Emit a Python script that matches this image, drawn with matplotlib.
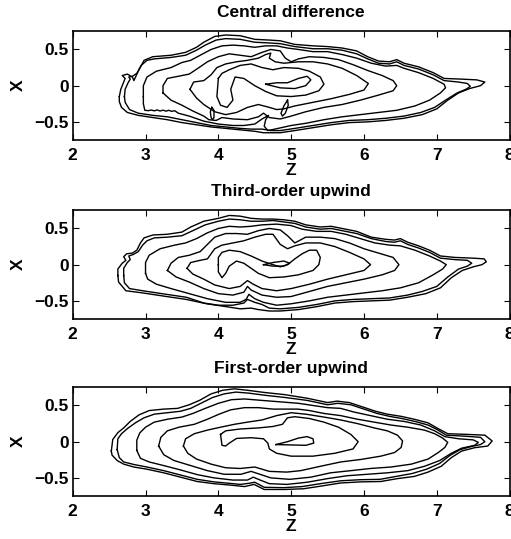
import matplotlib
matplotlib.use("Agg")
import matplotlib.pyplot as plt

plt.rcParams['font.family'] = ['Liberation Sans', 'DejaVu Sans']
plt.rcParams['font.weight'] = 'bold'

# contour lines, as (Z, X) vertices, outermost first

# --- Central difference ---
central_c1 = [(2.64, -0.15), (2.66, -0.05), (2.70, 0.05), (2.72, 0.10), (2.68, 0.14), (2.75, 0.16),
              (2.82, 0.12), (2.84, 0.07), (2.90, 0.20), (2.98, 0.35), (3.10, 0.40), (3.35, 0.42),
              (3.55, 0.46), (3.70, 0.53), (3.80, 0.60), (3.95, 0.68), (4.10, 0.70), (4.30, 0.69),
              (4.50, 0.64), (4.70, 0.63), (4.85, 0.62), (5.05, 0.57), (5.30, 0.55), (5.50, 0.54),
              (5.70, 0.52), (5.90, 0.48), (6.05, 0.40), (6.20, 0.34), (6.35, 0.33), (6.45, 0.36),
              (6.55, 0.31), (6.75, 0.26), (6.95, 0.18), (7.10, 0.10), (7.35, 0.09), (7.55, 0.08),
              (7.66, 0.05), (7.60, 0.00), (7.45, -0.04), (7.30, -0.10), (7.15, -0.20), (7.00, -0.32),
              (6.80, -0.40), (6.55, -0.45), (6.30, -0.48), (6.05, -0.50), (5.80, -0.51), (5.55, -0.54),
              (5.30, -0.58), (5.05, -0.62), (4.85, -0.65), (4.62, -0.65), (4.50, -0.63), (4.30, -0.61),
              (4.10, -0.59), (3.90, -0.57), (3.70, -0.54), (3.50, -0.51), (3.30, -0.47), (3.10, -0.44),
              (2.90, -0.41), (2.75, -0.37), (2.67, -0.30), (2.64, -0.22)]
central_c2 = [(2.71, -0.15), (2.72, -0.05), (2.76, 0.04), (2.79, 0.09), (2.77, 0.12), (2.82, 0.13),
              (2.88, 0.17), (2.94, 0.28), (3.02, 0.35), (3.12, 0.37), (3.35, 0.39), (3.55, 0.42),
              (3.70, 0.49), (3.82, 0.56), (3.97, 0.63), (4.10, 0.65), (4.30, 0.64), (4.50, 0.60),
              (4.70, 0.59), (4.85, 0.58), (5.05, 0.54), (5.30, 0.51), (5.50, 0.51), (5.70, 0.49),
              (5.90, 0.44), (6.05, 0.37), (6.20, 0.31), (6.35, 0.30), (6.45, 0.33), (6.55, 0.28),
              (6.75, 0.23), (6.95, 0.15), (7.10, 0.07), (7.30, 0.05), (7.42, 0.03), (7.46, -0.01),
              (7.40, -0.05), (7.28, -0.10), (7.12, -0.20), (6.97, -0.30), (6.78, -0.37), (6.55, -0.42),
              (6.30, -0.45), (6.05, -0.47), (5.80, -0.48), (5.55, -0.51), (5.30, -0.55), (5.05, -0.59),
              (4.85, -0.62), (4.72, -0.62), (4.60, -0.60), (4.45, -0.60), (4.30, -0.59), (4.10, -0.57),
              (3.90, -0.55), (3.70, -0.51), (3.50, -0.47), (3.30, -0.43), (3.10, -0.41), (2.90, -0.38),
              (2.78, -0.33), (2.72, -0.23)]
central_c3 = [(2.97, -0.15), (2.97, 0.00), (3.02, 0.12), (3.15, 0.20), (3.35, 0.25), (3.50, 0.32),
              (3.62, 0.35), (3.75, 0.42), (3.90, 0.50), (4.05, 0.55), (4.20, 0.56), (4.35, 0.55),
              (4.50, 0.53), (4.65, 0.55), (4.80, 0.55), (4.95, 0.52), (5.10, 0.50), (5.30, 0.47),
              (5.50, 0.47), (5.70, 0.43), (5.90, 0.38), (6.10, 0.31), (6.30, 0.27), (6.45, 0.28),
              (6.55, 0.24), (6.75, 0.18), (6.95, 0.10), (7.10, 0.02), (7.12, -0.03), (7.05, -0.10),
              (6.90, -0.20), (6.70, -0.28), (6.45, -0.34), (6.20, -0.37), (5.95, -0.40), (5.70, -0.43),
              (5.45, -0.47), (5.20, -0.52), (5.00, -0.55), (4.82, -0.59), (4.68, -0.62), (4.63, -0.56),
              (4.65, -0.47), (4.69, -0.41), (4.60, -0.46), (4.50, -0.53), (4.35, -0.55), (4.20, -0.55),
              (4.00, -0.53), (3.80, -0.49), (3.60, -0.42), (3.45, -0.38), (3.40, -0.345), (3.36, -0.355),
              (3.32, -0.34), (3.28, -0.352), (3.24, -0.338), (3.20, -0.35), (3.16, -0.335), (3.12, -0.348),
              (3.08, -0.336), (3.04, -0.345), (2.99, -0.34), (2.97, -0.25)]
central_c4 = [(3.24, -0.10), (3.24, 0.00), (3.30, 0.10), (3.45, 0.13), (3.60, 0.16), (3.72, 0.24),
              (3.85, 0.33), (4.00, 0.40), (4.15, 0.44), (4.30, 0.42), (4.45, 0.40), (4.60, 0.46),
              (4.72, 0.50), (4.85, 0.48), (4.92, 0.38), (5.00, 0.33), (5.10, 0.37), (5.25, 0.40),
              (5.45, 0.39), (5.65, 0.36), (5.85, 0.29), (6.05, 0.21), (6.25, 0.14), (6.40, 0.07),
              (6.45, 0.00), (6.40, -0.07), (6.20, -0.13), (5.95, -0.20), (5.70, -0.26), (5.45, -0.30),
              (5.20, -0.36), (5.00, -0.42), (4.85, -0.46), (4.70, -0.44), (4.62, -0.38), (4.55, -0.43),
              (4.40, -0.47), (4.20, -0.46), (4.05, -0.44), (3.97, -0.48), (3.87, -0.47), (3.80, -0.42),
              (3.65, -0.35), (3.50, -0.27), (3.35, -0.20)]
central_c5 = [(3.61, -0.05), (3.66, 0.05), (3.80, 0.07), (3.90, 0.15), (3.98, 0.25), (4.10, 0.30),
              (4.25, 0.33), (4.40, 0.35), (4.55, 0.38), (4.65, 0.43), (4.72, 0.45), (4.70, 0.38),
              (4.78, 0.33), (4.90, 0.31), (5.10, 0.33), (5.30, 0.33), (5.50, 0.30), (5.70, 0.24),
              (5.90, 0.14), (6.06, 0.03), (6.00, -0.06), (5.80, -0.12), (5.55, -0.18), (5.30, -0.23),
              (5.05, -0.28), (4.90, -0.32), (4.80, -0.33), (4.70, -0.30), (4.55, -0.26), (4.40, -0.30),
              (4.25, -0.37), (4.10, -0.40), (3.95, -0.36), (3.80, -0.26), (3.70, -0.17)]
central_c6 = [(4.00, 0.10), (3.98, -0.15), (4.03, -0.27), (4.12, -0.30), (4.20, -0.20), (4.17, -0.05),
              (4.23, 0.12), (4.35, 0.10), (4.50, 0.00), (4.65, -0.08), (4.80, -0.14), (5.00, -0.15),
              (5.20, -0.13), (5.38, -0.07), (5.45, 0.02), (5.40, 0.12), (5.25, 0.20), (5.10, 0.24),
              (4.90, 0.25), (4.75, 0.22), (4.60, 0.25), (4.45, 0.30), (4.30, 0.28), (4.15, 0.22),
              (4.05, 0.17)]
central_c7 = [(4.65, 0.02), (4.85, -0.03), (5.05, -0.04), (5.20, 0.00), (5.27, 0.08), (5.22, 0.13),
              (5.10, 0.10), (4.95, 0.04), (4.80, 0.04)]
central_drop1 = [(3.91, -0.30), (3.94, -0.34), (3.94, -0.44), (3.92, -0.47), (3.90, -0.44), (3.89, -0.36)]
central_drop2 = [(4.95, -0.20), (4.96, -0.27), (4.92, -0.38), (4.88, -0.42), (4.86, -0.38), (4.90, -0.28)]

# --- Third-order upwind ---
third_c1 = [(2.62, -0.15), (2.62, -0.06), (2.68, 0.02), (2.73, 0.06), (2.70, 0.11), (2.74, 0.15),
            (2.82, 0.16), (2.88, 0.20), (2.93, 0.30), (2.98, 0.37), (3.10, 0.41), (3.30, 0.42),
            (3.50, 0.45), (3.62, 0.52), (3.80, 0.60), (4.00, 0.64), (4.15, 0.68), (4.30, 0.67),
            (4.45, 0.64), (4.60, 0.63), (4.75, 0.63), (4.90, 0.62), (5.05, 0.60), (5.20, 0.55),
            (5.40, 0.52), (5.55, 0.53), (5.70, 0.50), (5.90, 0.46), (6.10, 0.38), (6.30, 0.35),
            (6.42, 0.34), (6.50, 0.36), (6.60, 0.31), (6.75, 0.26), (6.90, 0.20), (7.05, 0.12),
            (7.25, 0.10), (7.50, 0.09), (7.65, 0.08), (7.68, 0.04), (7.62, 0.00), (7.50, -0.03),
            (7.35, -0.08), (7.20, -0.18), (7.05, -0.32), (6.85, -0.40), (6.60, -0.45), (6.35, -0.49),
            (6.10, -0.50), (5.85, -0.51), (5.60, -0.53), (5.35, -0.58), (5.10, -0.62), (4.85, -0.64),
            (4.70, -0.64), (4.55, -0.62), (4.45, -0.60), (4.30, -0.61), (4.11, -0.58), (3.84, -0.54),
            (3.56, -0.48), (3.29, -0.44), (2.96, -0.39), (2.73, -0.36), (2.63, -0.24)]
third_c2 = [(2.70, -0.15), (2.70, -0.05), (2.75, 0.03), (2.79, 0.07), (2.77, 0.12), (2.83, 0.14),
            (2.90, 0.18), (2.96, 0.27), (3.02, 0.33), (3.12, 0.37), (3.30, 0.38), (3.50, 0.40),
            (3.65, 0.47), (3.82, 0.55), (4.00, 0.60), (4.15, 0.63), (4.30, 0.62), (4.45, 0.60),
            (4.60, 0.60), (4.75, 0.61), (4.90, 0.59), (5.05, 0.57), (5.20, 0.52), (5.40, 0.49),
            (5.55, 0.50), (5.70, 0.47), (5.90, 0.43), (6.10, 0.36), (6.30, 0.32), (6.42, 0.31),
            (6.50, 0.33), (6.60, 0.28), (6.75, 0.23), (6.90, 0.17), (7.05, 0.09), (7.25, 0.07),
            (7.42, 0.06), (7.48, 0.02), (7.42, -0.02), (7.30, -0.06), (7.15, -0.17), (7.00, -0.30),
            (6.80, -0.37), (6.60, -0.42), (6.35, -0.46), (6.10, -0.47), (5.85, -0.48), (5.60, -0.50),
            (5.35, -0.55), (5.10, -0.59), (4.85, -0.61), (4.70, -0.60), (4.60, -0.55), (4.50, -0.52),
            (4.40, -0.48), (4.35, -0.53), (4.20, -0.56), (4.00, -0.56), (3.80, -0.53), (3.56, -0.45),
            (3.29, -0.41), (2.96, -0.36), (2.78, -0.33), (2.71, -0.25)]
third_c3 = [(3.00, -0.12), (3.00, 0.03), (3.05, 0.13), (3.20, 0.22), (3.40, 0.27), (3.55, 0.30),
            (3.70, 0.36), (3.85, 0.44), (4.00, 0.50), (4.15, 0.53), (4.30, 0.52), (4.45, 0.53),
            (4.60, 0.55), (4.80, 0.56), (5.00, 0.54), (5.15, 0.49), (5.35, 0.46), (5.55, 0.46),
            (5.75, 0.42), (5.95, 0.36), (6.15, 0.30), (6.35, 0.27), (6.50, 0.26), (6.70, 0.20),
            (6.90, 0.12), (7.05, 0.05), (7.13, 0.00), (7.08, -0.06), (6.95, -0.14), (6.75, -0.25),
            (6.50, -0.32), (6.25, -0.36), (6.00, -0.39), (5.75, -0.42), (5.50, -0.45), (5.25, -0.50),
            (5.00, -0.54), (4.80, -0.56), (4.62, -0.52), (4.50, -0.47), (4.42, -0.41), (4.38, -0.48),
            (4.30, -0.52), (4.10, -0.52), (3.85, -0.47), (3.60, -0.40), (3.35, -0.33), (3.15, -0.27),
            (3.03, -0.20)]
third_c4 = [(3.30, -0.08), (3.35, 0.02), (3.45, 0.10), (3.60, 0.13), (3.75, 0.18), (3.85, 0.28),
            (3.95, 0.38), (4.10, 0.43), (4.25, 0.43), (4.40, 0.42), (4.55, 0.47), (4.70, 0.50),
            (4.85, 0.48), (4.95, 0.40), (5.05, 0.30), (5.20, 0.38), (5.40, 0.38), (5.60, 0.36),
            (5.80, 0.30), (6.00, 0.22), (6.20, 0.16), (6.40, 0.10), (6.48, 0.00), (6.42, -0.08),
            (6.25, -0.14), (6.00, -0.20), (5.75, -0.25), (5.50, -0.30), (5.25, -0.37), (5.00, -0.44),
            (4.80, -0.45), (4.60, -0.42), (4.45, -0.35), (4.40, -0.30), (4.35, -0.38), (4.20, -0.42),
            (4.00, -0.40), (3.80, -0.33), (3.60, -0.24), (3.42, -0.17)]
third_c5 = [(3.57, -0.05), (3.62, 0.03), (3.75, 0.06), (3.85, 0.08), (3.90, 0.15), (3.95, 0.22),
            (4.05, 0.27), (4.20, 0.30), (4.35, 0.33), (4.50, 0.38), (4.65, 0.42), (4.75, 0.42),
            (4.80, 0.35), (4.85, 0.28), (4.95, 0.22), (5.05, 0.26), (5.20, 0.30), (5.40, 0.30),
            (5.60, 0.25), (5.80, 0.17), (6.00, 0.08), (6.09, 0.00), (6.00, -0.08), (5.75, -0.14),
            (5.50, -0.20), (5.25, -0.27), (5.00, -0.33), (4.80, -0.36), (4.60, -0.33), (4.48, -0.27),
            (4.40, -0.22), (4.30, -0.30), (4.15, -0.33), (3.95, -0.28), (3.80, -0.20), (3.65, -0.13)]
third_c6 = [(4.00, 0.00), (4.00, 0.10), (4.05, 0.17), (4.15, 0.20), (4.30, 0.18), (4.45, 0.12),
            (4.60, 0.05), (4.75, 0.00), (4.85, -0.03), (4.95, 0.00), (5.05, 0.08), (5.15, 0.15),
            (5.25, 0.20), (5.35, 0.20), (5.40, 0.10), (5.38, 0.00), (5.30, -0.08), (5.10, -0.14),
            (4.90, -0.17), (4.70, -0.18), (4.55, -0.12), (4.45, -0.05), (4.35, 0.02), (4.25, 0.05),
            (4.15, -0.02), (4.10, -0.12), (4.05, -0.18), (4.00, -0.10)]
third_c7 = [(4.62, 0.00), (4.75, 0.03), (4.90, 0.05), (4.98, 0.02), (4.90, -0.02), (4.75, -0.02)]

# --- First-order upwind ---
first_c1 = [(2.53, -0.13), (2.55, 0.03), (2.62, 0.125), (2.70, 0.19), (2.79, 0.28), (2.91, 0.37),
            (3.05, 0.43), (3.25, 0.45), (3.44, 0.46), (3.60, 0.51), (3.74, 0.57), (3.90, 0.66),
            (4.06, 0.71), (4.22, 0.73), (4.40, 0.71), (4.63, 0.68), (4.91, 0.65), (5.22, 0.60),
            (5.50, 0.54), (5.63, 0.56), (5.80, 0.54), (5.98, 0.48), (6.16, 0.42), (6.32, 0.38),
            (6.51, 0.35), (6.69, 0.31), (6.88, 0.26), (7.01, 0.185), (7.15, 0.11), (7.43, 0.10),
            (7.66, 0.09), (7.76, 0.01), (7.70, -0.06), (7.52, -0.083), (7.34, -0.13), (7.20, -0.22),
            (7.06, -0.34), (6.88, -0.42), (6.69, -0.48), (6.46, -0.51), (6.23, -0.55), (5.96, -0.555),
            (5.68, -0.57), (5.40, -0.615), (5.17, -0.65), (4.91, -0.66), (4.63, -0.66), (4.49, -0.59),
            (4.36, -0.62), (4.17, -0.60), (3.94, -0.58), (3.71, -0.55), (3.48, -0.49), (3.25, -0.43),
            (3.02, -0.38), (2.84, -0.35), (2.70, -0.31), (2.61, -0.26), (2.54, -0.185)]
first_c2 = [(2.61, -0.11), (2.62, 0.04), (2.67, 0.11), (2.75, 0.18), (2.86, 0.26), (2.98, 0.33),
            (3.12, 0.38), (3.30, 0.40), (3.48, 0.42), (3.62, 0.46), (3.76, 0.53), (3.92, 0.61),
            (4.08, 0.66), (4.24, 0.685), (4.42, 0.67), (4.65, 0.64), (4.92, 0.61), (5.22, 0.57),
            (5.50, 0.51), (5.64, 0.53), (5.82, 0.51), (6.00, 0.45), (6.18, 0.39), (6.35, 0.35),
            (6.52, 0.32), (6.70, 0.28), (6.88, 0.23), (7.00, 0.17), (7.13, 0.09), (7.40, 0.075),
            (7.60, 0.06), (7.66, 0.00), (7.60, -0.04), (7.48, -0.065), (7.32, -0.11), (7.18, -0.19),
            (7.04, -0.30), (6.86, -0.38), (6.66, -0.44), (6.44, -0.48), (6.22, -0.52), (5.95, -0.525),
            (5.68, -0.54), (5.40, -0.58), (5.15, -0.62), (4.90, -0.635), (4.63, -0.63), (4.50, -0.56),
            (4.42, -0.575), (4.30, -0.59), (4.15, -0.575), (3.94, -0.555), (3.71, -0.52), (3.48, -0.46),
            (3.25, -0.40), (3.02, -0.35), (2.84, -0.315), (2.70, -0.28), (2.64, -0.22)]
first_c3 = [(2.88, -0.12), (2.88, 0.02), (2.92, 0.12), (3.00, 0.20), (3.12, 0.27), (3.30, 0.31),
            (3.50, 0.34), (3.65, 0.39), (3.82, 0.46), (4.00, 0.53), (4.18, 0.58), (4.36, 0.59),
            (4.60, 0.57), (4.85, 0.55), (5.10, 0.53), (5.30, 0.50), (5.50, 0.47), (5.68, 0.46),
            (5.86, 0.41), (6.09, 0.36), (6.32, 0.31), (6.55, 0.28), (6.78, 0.23), (6.97, 0.15),
            (7.11, 0.07), (7.30, 0.04), (7.50, 0.025), (7.57, -0.01), (7.52, -0.05), (7.34, -0.09),
            (7.20, -0.16), (7.04, -0.26), (6.83, -0.34), (6.60, -0.40), (6.32, -0.43), (6.05, -0.45),
            (5.77, -0.47), (5.50, -0.51), (5.22, -0.56), (4.94, -0.59), (4.70, -0.58), (4.55, -0.52),
            (4.48, -0.49), (4.40, -0.53), (4.20, -0.53), (3.94, -0.50), (3.71, -0.455), (3.48, -0.39),
            (3.25, -0.33), (3.05, -0.28), (2.93, -0.23)]
first_c4 = [(3.18, -0.06), (3.21, 0.06), (3.30, 0.15), (3.46, 0.20), (3.67, 0.24), (3.85, 0.31),
            (4.01, 0.38), (4.17, 0.44), (4.36, 0.47), (4.55, 0.47), (4.75, 0.45), (4.92, 0.45),
            (5.09, 0.45), (5.25, 0.43), (5.45, 0.39), (5.68, 0.36), (5.91, 0.31), (6.14, 0.27),
            (6.37, 0.23), (6.60, 0.20), (6.83, 0.16), (6.97, 0.11), (7.08, 0.05), (7.15, -0.01),
            (7.11, -0.08), (7.02, -0.15), (6.88, -0.24), (6.65, -0.31), (6.37, -0.35), (6.09, -0.37),
            (5.82, -0.40), (5.54, -0.43), (5.27, -0.49), (4.98, -0.52), (4.72, -0.50), (4.54, -0.44),
            (4.45, -0.41), (4.31, -0.45), (4.08, -0.45), (3.85, -0.40), (3.62, -0.33), (3.39, -0.26),
            (3.25, -0.18)]
first_c5 = [(3.52, -0.06), (3.55, 0.04), (3.67, 0.11), (3.85, 0.16), (4.03, 0.20), (4.22, 0.24),
            (4.40, 0.27), (4.60, 0.30), (4.80, 0.36), (5.00, 0.40), (5.20, 0.38), (5.45, 0.34),
            (5.68, 0.30), (5.91, 0.25), (6.14, 0.19), (6.32, 0.15), (6.46, 0.09), (6.53, 0.01),
            (6.51, -0.08), (6.42, -0.15), (6.23, -0.20), (5.96, -0.245), (5.68, -0.28), (5.40, -0.34),
            (5.13, -0.40), (4.94, -0.42), (4.70, -0.41), (4.50, -0.35), (4.30, -0.37), (4.10, -0.36),
            (3.90, -0.31), (3.70, -0.24), (3.58, -0.16)]
first_c6 = [(4.03, 0.10), (4.10, 0.15), (4.30, 0.175), (4.55, 0.19), (4.75, 0.21), (4.88, 0.24),
            (4.95, 0.33), (5.05, 0.345), (5.25, 0.32), (5.45, 0.27), (5.65, 0.20), (5.82, 0.10),
            (5.92, 0.00), (5.85, -0.10), (5.60, -0.16), (5.30, -0.20), (5.00, -0.20), (4.80, -0.16),
            (4.70, -0.10), (4.68, -0.02), (4.62, 0.04), (4.45, 0.055), (4.25, 0.045), (4.15, -0.02),
            (4.10, -0.06), (4.05, -0.05)]
first_c7 = [(4.79, -0.04), (4.95, 0.00), (5.10, 0.05), (5.22, 0.07), (5.30, 0.04), (5.31, -0.02),
            (5.20, -0.05), (5.00, -0.045)]

panel_titles = ["Central difference", "Third-order upwind", "First-order upwind"]
panel_curves = [
    [central_c1, central_c2, central_c3, central_c4, central_c5, central_c6, central_c7,
     central_drop1, central_drop2],
    [third_c1, third_c2, third_c3, third_c4, third_c5, third_c6, third_c7],
    [first_c1, first_c2, first_c3, first_c4, first_c5, first_c6, first_c7],
]

fig = plt.figure(figsize=(5.11, 5.39), dpi=100)
bottoms = [0.7403, 0.4082, 0.0798]

for title, curves, b in zip(panel_titles, panel_curves, bottoms):
    ax = fig.add_axes([0.1423, b, 0.855, 0.2015])
    for pts in curves:
        zz = [p[0] for p in pts] + [pts[0][0]]
        xx = [p[1] for p in pts] + [pts[0][1]]
        ax.plot(zz, xx, color='black', lw=1.0)
    ax.set_xlim(2, 8)
    ax.set_ylim(-0.75, 0.75)
    ax.set_xticks([2, 3, 4, 5, 6, 7, 8])
    ax.set_yticks([-0.5, 0, 0.5])
    ax.set_yticklabels(['\u22120.5', '0', '0.5'])
    ax.tick_params(direction='in', top=True, right=True, length=4, width=0.8,
                   labelsize=12.5)
    ax.tick_params(axis='x', pad=6)
    ax.tick_params(axis='y', pad=3)
    for lab in ax.get_xticklabels() + ax.get_yticklabels():
        lab.set_fontweight('bold')
    for sp in ax.spines.values():
        sp.set_linewidth(1.2)
    ax.set_title(title, fontsize=12.5, fontweight='bold', pad=10)
    ax.set_xlabel('Z', fontsize=12.5, fontweight='bold', labelpad=0)
    ax.set_ylabel('X', fontsize=12.5, fontweight='bold', labelpad=6)

fig.savefig('out.png', dpi=100)
